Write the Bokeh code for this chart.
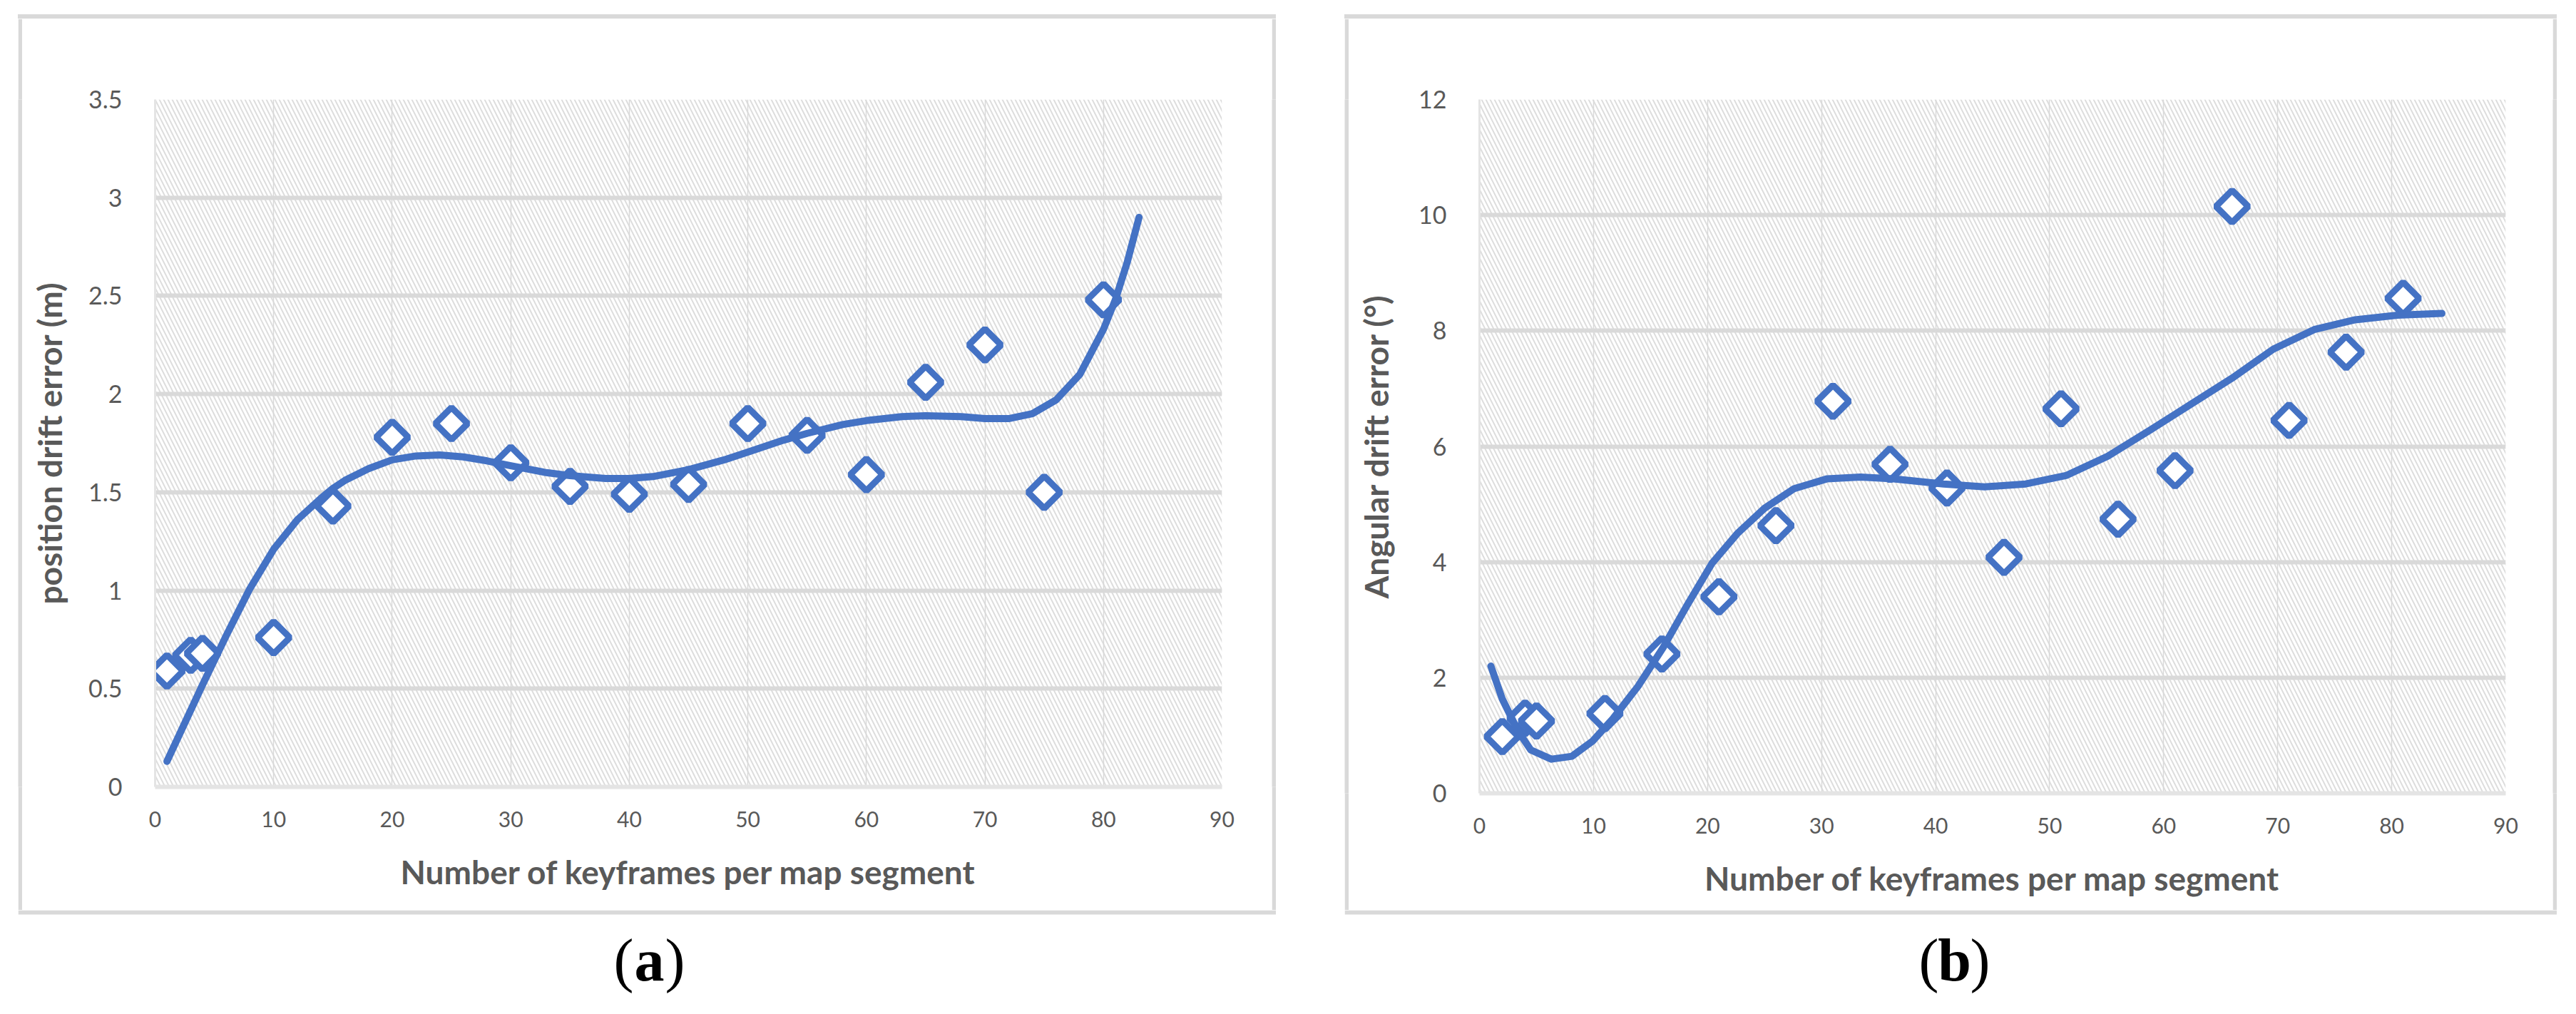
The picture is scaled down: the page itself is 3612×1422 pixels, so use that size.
import numpy as np
from bokeh.plotting import figure
from bokeh.layouts import row, column, Spacer
from bokeh.models import BoxAnnotation, FixedTicker, Range1d
from bokeh.core.properties import value
from bokeh.embed import file_html
from bokeh.resources import INLINE

# ---------------- data ----------------
kf_a = [1, 3, 4, 10, 15, 20, 25, 30, 35, 40, 45, 50, 55, 60, 65, 70, 75, 80]
pos_err = [0.59, 0.67, 0.68, 0.76, 1.43, 1.78, 1.85, 1.65, 1.53, 1.49, 1.54,
           1.85, 1.79, 1.59, 2.06, 2.25, 1.50, 2.48]
trend_a_x = [1, 2, 3, 4, 5, 6, 7, 8, 10, 12, 14, 15, 16, 18, 20, 22, 24, 26, 28,
             30, 33, 35, 38, 40, 42, 45, 48, 50, 53, 55, 58, 60, 63, 65, 68, 70,
             72, 74, 76, 78, 80, 81, 82, 83]
trend_a_y = [0.13, 0.26, 0.39, 0.52, 0.645, 0.77, 0.89, 1.01, 1.21, 1.36, 1.47,
             1.52, 1.56, 1.62, 1.665, 1.685, 1.69, 1.68, 1.66, 1.635, 1.60, 1.585,
             1.57, 1.57, 1.58, 1.615, 1.665, 1.705, 1.765, 1.80, 1.845, 1.865,
             1.885, 1.89, 1.885, 1.875, 1.875, 1.90, 1.97, 2.10, 2.33, 2.48,
             2.67, 2.90]

kf_b = [2, 4, 5, 11, 16, 21, 26, 31, 36, 41, 46, 51, 56, 61, 66, 71, 76, 81]
ang_err = [0.98, 1.30, 1.25, 1.38, 2.41, 3.40, 4.63, 6.78, 5.69, 5.28, 4.08,
           6.65, 4.74, 5.58, 10.15, 6.45, 7.63, 8.56]
trend_b_x = [1, 2, 3.4, 4.5, 6.3, 8.1, 9.9, 11.7, 13.9, 16.1, 18.2, 20.4, 22.6,
             25, 27.6, 30.5, 33.4, 36.3, 40.7, 44.3, 47.9, 51.5, 55.1, 58.8,
             62.4, 66, 69.6, 73.2, 76.8, 80.5, 84.4]
trend_b_y = [2.2, 1.63, 1.07, 0.75, 0.59, 0.64, 0.90, 1.29, 1.85, 2.52, 3.25,
             3.98, 4.49, 4.93, 5.27, 5.44, 5.47, 5.44, 5.35, 5.30, 5.35, 5.50,
             5.83, 6.28, 6.73, 7.18, 7.68, 8.02, 8.19, 8.27, 8.30]

x_ticks = [0, 10, 20, 30, 40, 50, 60, 70, 80, 90]
x_tick_labels = ["0", "10", "20", "30", "40", "50", "60", "70", "80", "90"]
y_ticks_a = [0, 0.5, 1, 1.5, 2, 2.5, 3, 3.5]
y_tick_labels_a = ["0", "0.5", "1", "1.5", "2", "2.5", "3", "3.5"]
y_ticks_b = [0, 2, 4, 6, 8, 10, 12]
y_tick_labels_b = ["0", "2", "4", "6", "8", "10", "12"]

x_title = "Number of keyframes per map segment"
y_title_a = "position drift error (m)"
y_title_b = "Angular drift error (°)"
tags = ["a", "b"]

# ---------------- style ----------------
BLUE = "#4472C4"
TXT = "#595959"
GRID = "#d9d9d9"
AXIS = "#e4e4e4"
BW = 6          # panel border width
HIN = 1250      # inner panel height
TAG_H = 136     # bottom border + caption area


def bare(w, h, **kw):
    f = figure(width=w, height=h, title=None, output_backend="svg",
               toolbar_location=None, x_axis_location=None,
               y_axis_location=None, min_border=0, **kw)
    f.outline_line_color = None
    f.grid.visible = False
    return f


def side_strip(h):
    return bare(BW, h, background_fill_color=GRID, border_fill_color=GRID)


def tag_fig(w, cx, tag):
    t = bare(w, TAG_H, x_range=Range1d(0, w), y_range=Range1d(0, TAG_H))
    # bottom edge of the panel border
    t.quad(left=[0], right=[w], bottom=[TAG_H - BW], top=[TAG_H],
           fill_color=GRID, line_color=None)
    common = dict(text_baseline="middle", text_font=value("Liberation Serif"),
                  text_font_size="84px", text_color="black")
    ty = [66]
    t.text(x=[cx], y=ty, text=["("], x_offset=-22, text_align="right", **common)
    t.text(x=[cx], y=ty, text=[tag], text_align="center",
           text_font_style="bold", **common)
    t.text(x=[cx], y=ty, text=[")"], x_offset=22, text_align="left", **common)
    return t


def main_fig(width, fl, fr, ft, fb, yr, xs, ys, tx, ty, yticks, ylabels,
             ytitle, y_als):
    p = figure(width=width, height=HIN, title=None, output_backend="svg",
               toolbar_location=None,
               x_range=Range1d(0, 90), y_range=Range1d(*yr),
               min_border_left=fl, min_border_right=width - fr,
               min_border_top=ft, min_border_bottom=HIN - fb)
    p.background_fill_color = "white"
    p.border_fill_color = "white"
    p.outline_line_color = None

    # hatched plot area
    p.add_layout(BoxAnnotation(fill_color=None, line_color=None,
                               hatch_pattern="\\", hatch_color=GRID,
                               hatch_alpha=0.9, hatch_scale=12, hatch_weight=2,
                               level="underlay"))

    xa = p.xaxis[0]
    xa.ticker = FixedTicker(ticks=x_ticks)
    xa.major_label_overrides = {t: l for t, l in zip(x_ticks, x_tick_labels)}
    ya = p.yaxis[0]
    ya.ticker = FixedTicker(ticks=yticks)
    ya.major_label_overrides = {t: l for t, l in zip(yticks, ylabels)}
    for ax in (xa, ya):
        ax.major_tick_line_color = None
        ax.minor_tick_line_color = None
        ax.axis_line_color = AXIS
        ax.major_label_text_color = TXT
        ax.major_label_text_font = "Lato"
        ax.axis_label_text_color = TXT
        ax.axis_label_text_font = "Lato"
        ax.axis_label_text_font_style = "bold"
        ax.axis_label_text_font_size = "46px"
    xa.axis_line_width = 6
    ya.axis_line_width = 3
    xa.major_label_text_font_size = "30px"
    ya.major_label_text_font_size = "34px"
    xa.major_label_standoff = 28
    ya.major_label_standoff = 40
    xa.axis_label_standoff = 32
    ya.axis_label_standoff = y_als
    xa.axis_label = x_title
    ya.axis_label = ytitle

    p.xgrid.ticker = FixedTicker(ticks=x_ticks)
    p.ygrid.ticker = FixedTicker(ticks=yticks)
    p.xgrid.grid_line_color = GRID
    p.xgrid.grid_line_width = 1.5
    p.ygrid.grid_line_color = GRID
    p.ygrid.grid_line_width = 6

    p.scatter(xs, ys, marker="square", angle=np.pi / 4, size=32,
              line_color=BLUE, line_width=9, fill_color="white")
    p.line(tx, ty, line_color=BLUE, line_width=10, line_join="round",
           line_cap="round")
    return p


def panel(inner_w, fl, fr, fb, yr, xs, ys, tx, ty, yticks, ylabels, ytitle,
          y_als, tag, tag_cx):
    outer_w = inner_w + 2 * BW
    m = main_fig(inner_w, fl, fr, 113, fb, yr, xs, ys, tx, ty, yticks, ylabels,
                 ytitle, y_als)
    top_edge = Spacer(width=outer_w, height=BW,
                      styles={"background-color": GRID})
    return column(Spacer(width=outer_w, height=20),
                  top_edge,
                  row(side_strip(HIN), m, side_strip(HIN)),
                  tag_fig(outer_w, tag_cx, tag))


pa = panel(1752, 186, 1682, 1077, (0, 3.5), kf_a, pos_err, trend_a_x, trend_a_y,
           y_ticks_a, y_tick_labels_a, y_title_a, 24, tags[0], 885)
pb = panel(1688, 183, 1622, 1086, (0, 12), kf_b, ang_err, trend_b_x, trend_b_y,
           y_ticks_b, y_tick_labels_b, y_title_b, 29, tags[1], 855)

layout = row(Spacer(width=25, height=10), pa, Spacer(width=96, height=10), pb)
open("out.html", "w").write(file_html(layout, INLINE))
